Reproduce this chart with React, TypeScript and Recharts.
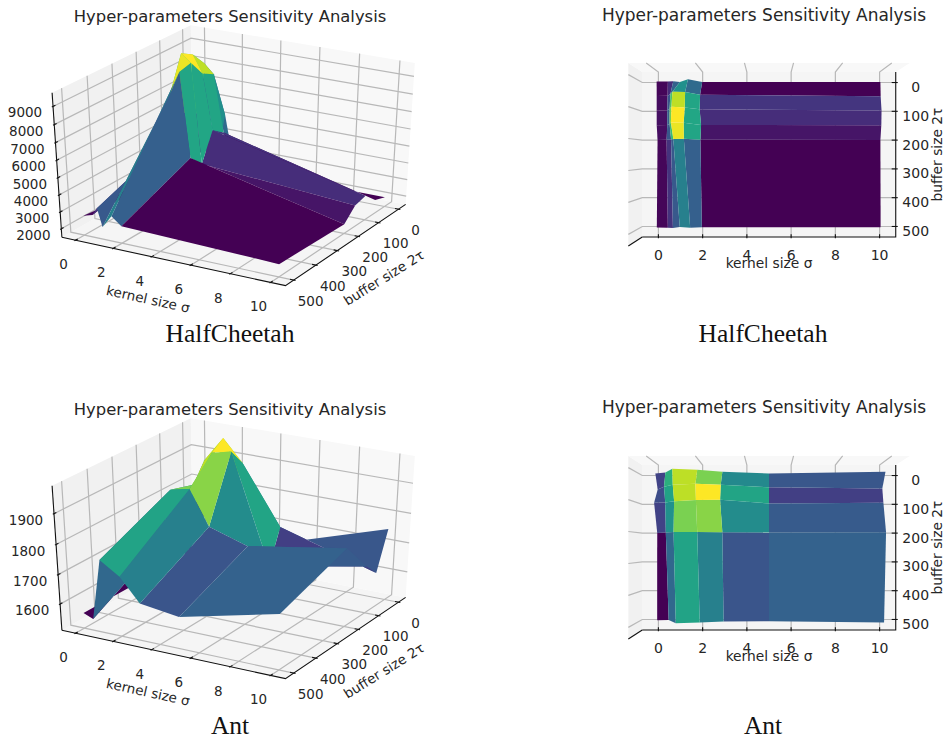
import { ScatterChart, Scatter, XAxis, YAxis } from 'recharts';

const sigmaCheetah = [0, 0.5, 0.75, 1, 1.5, 2, 10];
const tauCheetah = [0, 50, 100, 150, 200, 500];
const returnsCheetah = [
  [2800, 2800, 3000, 2100, 5187, 2050, 2050],
  [2750, 3000, 5400, 8450, 7917, 4590, 2290],
  [2750, 3300, 6000, 9271, 8290, 5100, 2940],
  [2750, 3300, 6000, 9660, 9233, 3440, 2770],
  [2100, 3800, 4815, 7745, 9050, 4177, 2050],
  [2660, 2820, 3280, 2220, 2985, 2511, 2246],
];

const sigmaAnt = [0, 0.5, 1, 2, 3, 5, 10];
const tauAnt = [0, 50, 100, 200, 500];
const returnsAnt = [
  [1640, 1700, 1919, 1873, 1757, 1648, 1754],
  [1540, 1760, 1900, 1984, 1914, 1721, 1625],
  [1690, 1706, 1837, 1955, 1970, 1606, 1670],
  [1560, 1680, 1861, 1875, 1761, 1720, 1776],
  [1562, 1548, 1755, 1712, 1636, 1618, 1697],
];

const sigmaTicks = [0, 2, 4, 6, 8, 10];
const tauTicks = [0, 100, 200, 300, 400, 500];
const zTicksCheetah = [2000, 3000, 4000, 5000, 6000, 7000, 8000, 9000];
const zTicksAnt = [1600, 1700, 1800, 1900];

const viridis = [
  [68, 1, 84], [72, 36, 117], [65, 68, 135], [53, 95, 141], [42, 120, 142], [33, 145, 140],
  [34, 168, 132], [68, 191, 112], [122, 209, 81], [189, 223, 38], [253, 231, 37],
];

const CELL_W = 473;
const CELL_H = 369;
const SANS = 'DejaVu Sans';

function colorAt(t: number) {
  const p = Math.max(0, Math.min(0.9999, t)) * 10;
  const i = Math.floor(p);
  const f = p - i;
  const c = viridis[i].map((v, k) => Math.round(v + (viridis[i + 1][k] - v) * f));
  return `rgb(${c[0]},${c[1]},${c[2]})`;
}

type V3 = number[];
const dot = (a: V3, b: V3) => a[0] * b[0] + a[1] * b[1] + a[2] * b[2];
const cross = (a: V3, b: V3) => [a[1] * b[2] - a[2] * b[1], a[2] * b[0] - a[0] * b[2], a[0] * b[1] - a[1] * b[0]];
const unit = (a: V3) => {
  const l = Math.sqrt(dot(a, a));
  return a.map((v) => v / l);
};

// same camera as mplot3d: dist 10 around the middle of the unit box
function makeCamera(elev: number, azim: number) {
  const el = (elev * Math.PI) / 180;
  const az = (azim * Math.PI) / 180;
  const n = [Math.cos(el) * Math.cos(az), Math.cos(el) * Math.sin(az), Math.sin(el)];
  const u = unit([-Math.sin(az), Math.cos(az), 0]);
  const v = cross(n, u);
  return (p: V3) => {
    const d = [p[0] - 0.5 - 10 * n[0], p[1] - 0.5 - 10 * n[1], p[2] - 0.5 - 10 * n[2]];
    const w = -dot(d, n);
    return { x: dot(d, u) / w, y: dot(d, v) / w, w };
  };
}

const PaneLo = -1 / 48;
const PaneHi = 49 / 48;

type ViewProps = {
  originX: number;
  originY: number;
  scaleX: number;
  scaleY: number;
  elev: number;
  azim: number;
  topView: boolean;
};

const view3d: ViewProps = { originX: 236.5, originY: 151, scaleX: 2480, scaleY: 1600, elev: 31, azim: -60, topView: false };
const viewTop: ViewProps = { originX: 296, originY: 154.5, scaleX: 2560, scaleY: 1666, elev: 90, azim: -90, topView: true };

type PanelProps = {
  col: number;
  row: number;
  view: ViewProps;
  sigma: number[];
  tau: number[];
  values: number[][];
  zLim: number[];
  zTicks: number[];
};

function Panel({ col, row, view, sigma, tau, values, zLim, zTicks }: PanelProps) {
  const { originX, originY, scaleX, scaleY, elev, azim, topView } = view;
  const cam = makeCamera(elev, azim);
  const nx = (s: number) => (s + 0.5) / 11;
  const ny = (t: number) => (525 - t) / 550;
  const nz = (z: number) => (z - zLim[0]) / (zLim[1] - zLim[0]);
  const dom = {
    x: [-originX / scaleX, (CELL_W - originX) / scaleX],
    y: [(originY - CELL_H) / scaleY, originY / scaleY],
  };
  const tickSize = topView ? 14 : 13.5;

  const quad = (pts: V3[], fill: string, key: string) => (
    <Scatter
      key={key}
      data={pts.map(cam)}
      dataKey="y"
      isAnimationActive={false}
      shape={() => <g />}
      line={(p: any) => (
        <polygon points={p.points.map((q: any) => `${q.x},${q.y}`).join(' ')} fill={fill} stroke="none" />
      )}
    />
  );
  const path = (pts: V3[], stroke: string, width: number, key: string) => (
    <Scatter
      key={key}
      data={pts.map(cam)}
      dataKey="y"
      isAnimationActive={false}
      shape={() => <g />}
      line={(p: any) => (
        <polyline points={p.points.map((q: any) => `${q.x},${q.y}`).join(' ')} fill="none" stroke={stroke} strokeWidth={width} />
      )}
    />
  );
  const label = (at: V3, text: string, dx: number, dy: number, size: number, angle: number, key: string) => (
    <Scatter
      key={key}
      data={[cam(at)]}
      dataKey="y"
      isAnimationActive={false}
      shape={(p: any) => (
        <text
          x={p.cx + dx}
          y={p.cy + dy}
          fontFamily={SANS}
          fontSize={size}
          fill="#262626"
          textAnchor="middle"
          dominantBaseline="central"
          transform={angle ? `rotate(${angle} ${p.cx + dx} ${p.cy + dy})` : undefined}
        >
          {text}
        </text>
      )}
    />
  );

  const back: any[] = [];
  back.push(quad([[PaneLo, PaneLo, PaneLo], [PaneHi, PaneLo, PaneLo], [PaneHi, PaneHi, PaneLo], [PaneLo, PaneHi, PaneLo]], '#f5f5f5', 'floor'));
  back.push(quad([[PaneLo, PaneLo, PaneLo], [PaneLo, PaneHi, PaneLo], [PaneLo, PaneHi, PaneHi], [PaneLo, PaneLo, PaneHi]], '#f1f1f1', 'wallx'));
  back.push(quad([[PaneLo, PaneHi, PaneLo], [PaneHi, PaneHi, PaneLo], [PaneHi, PaneHi, PaneHi], [PaneLo, PaneHi, PaneHi]], '#f8f8f8', 'wally'));

  sigmaTicks.forEach((s) => {
    back.push(path([[nx(s), PaneLo, PaneLo], [nx(s), PaneHi, PaneLo], [nx(s), PaneHi, PaneHi]], '#b8b8b8', 1.2, `gx${s}`));
  });
  tauTicks.forEach((t) => {
    back.push(path([[PaneHi, ny(t), PaneLo], [PaneLo, ny(t), PaneLo], [PaneLo, ny(t), PaneHi]], '#b8b8b8', 1.2, `gy${t}`));
  });
  if (!topView) {
    zTicks.forEach((z) => {
      back.push(path([[PaneLo, PaneLo, nz(z)], [PaneLo, PaneHi, nz(z)], [PaneHi, PaneHi, nz(z)]], '#b8b8b8', 1.2, `gz${z}`));
    });
  }

  back.push(path([[PaneLo, PaneLo, PaneLo], [PaneHi, PaneLo, PaneLo], [PaneHi, PaneHi, PaneLo]], '#111', 1.1, 'axisxy'));
  back.push(path([[PaneLo, PaneLo, PaneLo], [PaneLo, PaneLo, PaneHi]], '#111', 1.1, 'axisz'));
  const tickOut = 0.1 / 12;
  const tickIn = 0.2 / 12;
  sigmaTicks.forEach((s) => {
    back.push(path([[nx(s), PaneLo - tickOut, PaneLo], [nx(s), PaneLo + tickIn, PaneLo]], '#111', 1.1, `tx${s}`));
    const c = topView ? [0, 18] : [-12, 24];
    back.push(label([nx(s), PaneLo, PaneLo], String(s), c[0], c[1], tickSize, 0, `lx${s}`));
  });
  tauTicks.forEach((t) => {
    back.push(path([[PaneHi + tickOut, ny(t), PaneLo], [PaneHi - tickIn, ny(t), PaneLo]], '#111', 1.1, `ty${t}`));
    const c = topView ? [20, 4.5] : [17, 20.5];
    back.push(label([PaneHi, ny(t), PaneLo], String(t), c[0], c[1], tickSize, 0, `ly${t}`));
  });
  if (!topView) {
    zTicks.forEach((z) => {
      back.push(path([[PaneLo, PaneLo - tickOut, nz(z)], [PaneLo, PaneLo + tickIn, nz(z)]], '#111', 1.1, `tz${z}`));
      back.push(label([PaneLo, PaneLo, nz(z)], String(z), -28, 6, tickSize, 0, `lz${z}`));
    });
  }

  const faces: { pts: V3[]; avg: number; depth: number; key: string }[] = [];
  for (let r = 0; r < tau.length - 1; r++) {
    for (let c = 0; c < sigma.length - 1; c++) {
      const cells = [[r, c], [r, c + 1], [r + 1, c + 1], [r + 1, c]];
      const pts = cells.map(([i, j]) => [nx(sigma[j]), ny(tau[i]), nz(values[i][j])]);
      const avg = cells.reduce((acc, [i, j]) => acc + values[i][j], 0) / 4;
      const depth = pts.reduce((acc, p) => acc + cam(p).w, 0) / 4;
      faces.push({ pts, avg, depth, key: `f${r}_${c}` });
    }
  }
  const lo = Math.min(...faces.map((f) => f.avg));
  const hi = Math.max(...faces.map((f) => f.avg));
  faces.sort((a, b) => b.depth - a.depth);

  return (
    <div style={{ position: 'absolute', left: col * CELL_W, top: row * CELL_H + (row ? 24 : 0), width: CELL_W, height: CELL_H }}>
      <ScatterChart width={CELL_W} height={CELL_H} margin={{ top: 0, right: 0, bottom: 0, left: 0 }}>
        <XAxis type="number" dataKey="x" domain={dom.x} hide allowDataOverflow />
        <YAxis type="number" dataKey="y" domain={dom.y} hide allowDataOverflow />
        {back}
        {faces.map((f) => quad(f.pts, colorAt((f.avg - lo) / (hi - lo)), f.key))}
        {topView ? label([nx(5), PaneLo, PaneLo], 'kernel size σ', 0, 26, 13.8, 0, 'nx') : label([nx(5), PaneLo, PaneLo], 'kernel size σ', -23, 38, 13.5, 12.4, 'nx')}
        {topView ? label([PaneHi, ny(250), PaneLo], 'buffer size 2τ', 41, 0, 13.8, -90, 'ny') : label([PaneHi, ny(250), PaneLo], 'buffer size 2τ', 36, 34, 13.5, -32, 'ny')}
      </ScatterChart>
    </div>
  );
}

const titleStyle = (x: number, y: number, size: number) => ({
  position: 'absolute' as const,
  left: x - 200,
  top: y - 12,
  width: 400,
  height: 24,
  lineHeight: '24px',
  textAlign: 'center' as const,
  fontFamily: SANS,
  fontSize: size,
  color: '#262626',
});
const captionStyle = (x: number, y: number) => ({
  position: 'absolute' as const,
  left: x - 200,
  top: y - 11,
  width: 400,
  height: 22,
  lineHeight: '22px',
  textAlign: 'center' as const,
  fontFamily: 'Liberation Serif',
  fontSize: 25.5,
  color: '#111',
});

export default function App() {
  return (
    <div style={{ position: 'absolute', left: 0, top: 0, width: 946, height: 738, overflow: 'hidden', background: '#fff' }}>
      <Panel col={0} row={0} view={view3d} sigma={sigmaCheetah} tau={tauCheetah} values={returnsCheetah} zLim={[1660, 9580]} zTicks={zTicksCheetah} />
      <Panel col={1} row={0} view={viewTop} sigma={sigmaCheetah} tau={tauCheetah} values={returnsCheetah} zLim={[1660, 9580]} zTicks={zTicksCheetah} />
      <Panel col={0} row={1} view={view3d} sigma={sigmaAnt} tau={tauAnt} values={returnsAnt} zLim={[1519, 1979]} zTicks={zTicksAnt} />
      <Panel col={1} row={1} view={viewTop} sigma={sigmaAnt} tau={tauAnt} values={returnsAnt} zLim={[1519, 1979]} zTicks={zTicksAnt} />
      <div style={titleStyle(230, 17, 16.4)}>Hyper-parameters Sensitivity Analysis</div>
      <div style={titleStyle(764, 15, 17)}>Hyper-parameters Sensitivity Analysis</div>
      <div style={titleStyle(230, 410, 16.4)}>Hyper-parameters Sensitivity Analysis</div>
      <div style={titleStyle(764, 407, 17)}>Hyper-parameters Sensitivity Analysis</div>
      <div style={captionStyle(230, 334)}>HalfCheetah</div>
      <div style={captionStyle(763, 334)}>HalfCheetah</div>
      <div style={captionStyle(230, 726)}>Ant</div>
      <div style={captionStyle(763, 726)}>Ant</div>
    </div>
  );
}
